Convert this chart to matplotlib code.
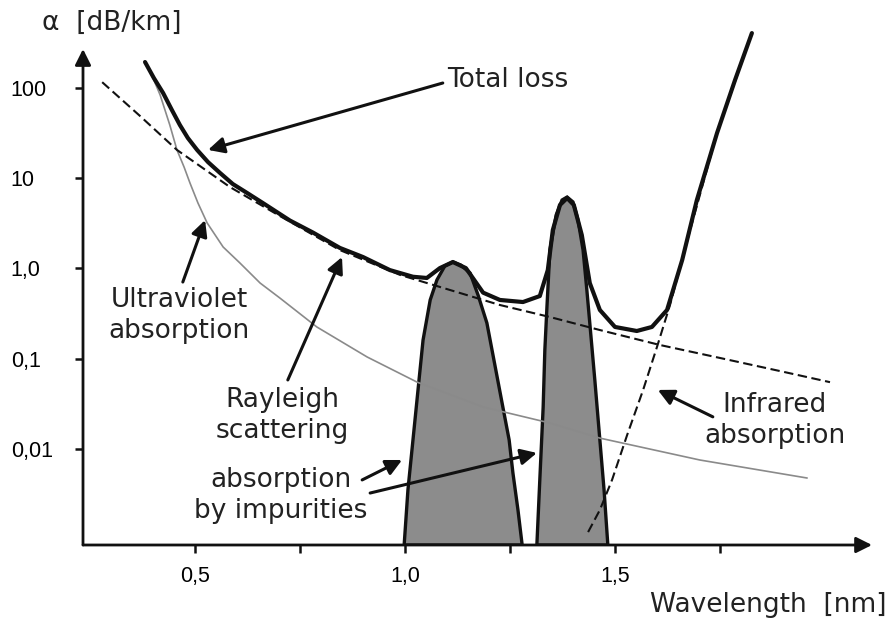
import matplotlib.pyplot as plt
from matplotlib.ticker import NullLocator

# values: wavelength and attenuation alpha [dB/km]
total_wl = [0.381, 0.402, 0.424, 0.445, 0.464, 0.483, 0.505, 0.531, 0.560, 0.590,
            0.624, 0.662, 0.726, 0.781, 0.845, 0.900, 0.964, 1.019, 1.052, 1.083,
            1.114, 1.145, 1.186, 1.226, 1.281, 1.321, 1.340, 1.352, 1.369, 1.386,
            1.402, 1.421, 1.440, 1.464, 1.500, 1.552, 1.588, 1.624, 1.660, 1.695,
            1.743, 1.786, 1.826]
total_alpha = [194, 129, 88.1, 57.0, 38.9, 27.9, 20.6, 15.1, 11.4, 8.63,
               6.87, 5.3, 3.4, 2.5, 1.69, 1.34, 0.96, 0.81, 0.785, 1.01,
               1.18, 1.01, 0.54, 0.448, 0.425, 0.495, 0.96, 2.67, 5.06, 6.04,
               5.06, 2.35, 0.69, 0.347, 0.225, 0.203, 0.225, 0.347, 1.24, 5.74,
               31.7, 123, 406]

rayleigh_wl = [0.279, 0.369, 0.457, 0.583, 0.702, 0.845, 0.988, 1.107, 1.226,
               1.345, 1.464, 1.607, 1.750, 1.893, 2.012]
rayleigh_alpha = [116, 49, 20.6, 8.0, 3.82, 1.60, 0.85, 0.578, 0.394,
                  0.29, 0.208, 0.142, 0.102, 0.073, 0.055]

uv_wl = [0.381, 0.400, 0.417, 0.440, 0.457, 0.474, 0.488, 0.507, 0.529, 0.567,
         0.607, 0.655, 0.702, 0.790, 0.910, 1.029, 1.186, 1.345, 1.464, 1.702, 1.957]
uv_alpha = [194, 129, 83.6, 38.9, 20.6, 13.3, 8.86, 5.32, 3.19, 1.73,
            1.15, 0.69, 0.471, 0.225, 0.1045, 0.055, 0.0292, 0.0194, 0.0132, 0.00755, 0.00477]

ir_wl = [1.436, 1.464, 1.493, 1.529, 1.567, 1.600, 1.631, 1.679, 1.743, 1.826]
ir_alpha = [0.0012, 0.00211, 0.00454, 0.0143, 0.0451, 0.135, 0.394, 2.67, 31.7, 406]

floor = 8.63e-4
peak1_wl = [0.998, 1.007, 1.019, 1.031, 1.043, 1.060, 1.076, 1.095, 1.114, 1.133,
            1.155, 1.174, 1.195, 1.214, 1.233, 1.248, 1.257, 1.269, 1.279]
peak1_alpha = [floor, 0.00352, 0.0126, 0.0451, 0.161, 0.448, 0.746, 1.07, 1.18, 1.09,
               0.89, 0.508, 0.249, 0.0853, 0.0292, 0.0126, 0.00542, 0.00211, floor]
peak2_wl = [1.314, 1.321, 1.329, 1.333, 1.338, 1.345, 1.360, 1.374, 1.386, 1.400,
            1.412, 1.424, 1.433, 1.440, 1.452, 1.464, 1.474, 1.483]
peak2_alpha = [floor, 0.00454, 0.0292, 0.125, 0.374, 1.60, 3.92, 5.74, 6.19, 5.46,
               3.44, 1.60, 0.578, 0.249, 0.0582, 0.0126, 0.00352, floor]

x_ticks = [0.5, 0.75, 1.0, 1.25, 1.5, 1.75]
x_tick_labels = ['0,5', '', '1,0', '', '1,5', '']
y_ticks = [100, 10, 1, 0.1, 0.01]
y_tick_labels = ['100', '10', '1,0', '0,1', '0,01']

fig = plt.figure(figsize=(8.91, 6.26), dpi=100)
ax = fig.add_axes([83 / 891, 81 / 626, 789 / 891, 493 / 626])
ax.set_yscale('log')
ax.set_xlim(0.2333, 2.112)
ax.set_ylim(floor, 250.6)
for s in ax.spines.values():
    s.set_visible(False)

# axes drawn as arrows
axis_arrow = dict(arrowstyle='-|>', lw=2, color='#111111', mutation_scale=24, shrinkA=0, shrinkB=0)
ax.annotate('', xy=(1, 0), xytext=(0, 0), xycoords='axes fraction', arrowprops=axis_arrow)
ax.annotate('', xy=(0, 1.006), xytext=(0, 0), xycoords='axes fraction', arrowprops=axis_arrow)

ax.set_xticks(x_ticks)
ax.set_xticklabels(x_tick_labels, family='Liberation Sans', fontsize=15.5)
ax.set_yticks(y_ticks)
ax.set_yticklabels(y_tick_labels, family='Liberation Sans', fontsize=15.5)
ax.yaxis.set_minor_locator(NullLocator())
ax.tick_params(axis='x', length=6, width=1.8, pad=9, color='#111111')
ax.tick_params(axis='y', length=6, width=1.8, pad=46, color='#111111')
for lab in ax.get_yticklabels():
    lab.set_ha('left')

# impurity absorption peaks
ax.fill(peak1_wl, peak1_alpha, facecolor='#8c8c8c', edgecolor='#111111', lw=2.4, zorder=2)
ax.fill(peak2_wl, peak2_alpha, facecolor='#8c8c8c', edgecolor='#111111', lw=2.4, zorder=2)

ax.plot(uv_wl, uv_alpha, color='#8a8a8a', lw=1.2, zorder=3)
ax.plot(rayleigh_wl, rayleigh_alpha, color='#111111', lw=1.5, dashes=(4.5, 2.2), zorder=3)
ax.plot(ir_wl, ir_alpha, color='#111111', lw=1.5, dashes=(4.5, 2.2), zorder=3)
ax.plot(total_wl, total_alpha, color='#111111', lw=3.0, zorder=4,
        solid_joinstyle='round', solid_capstyle='round', clip_on=False)

# labels with arrows
arr = dict(arrowstyle='-|>', lw=2.2, color='#111111', mutation_scale=24, shrinkA=0, shrinkB=0)
lab_kw = dict(fontsize=19, ha='center', va='center', color='#222222', linespacing=1.25)

ax.text(1.100, 122.6, 'Total loss', fontsize=19, ha='left', va='center', color='#222222')
ax.annotate('', xy=(0.531, 20.6), xytext=(1.090, 113.6), arrowprops=arr)

ax.text(0.462, 0.298, 'Ultraviolet\nabsorption', **lab_kw)
ax.annotate('', xy=(0.524, 3.44), xytext=(0.471, 0.708), arrowprops=arr)

ax.text(0.707, 0.0232, 'Rayleigh\nscattering', **lab_kw)
ax.annotate('', xy=(0.850, 1.34), xytext=(0.721, 0.0582), arrowprops=arr)

ax.text(0.705, 0.00309, 'absorption\nby impurities', **lab_kw)
ax.annotate('', xy=(0.993, 0.00755), xytext=(0.898, 0.00454), arrowprops=arr)
ax.annotate('', xy=(1.314, 0.00904), xytext=(0.917, 0.00325), arrowprops=arr)

ax.text(1.881, 0.0209, 'Infrared\nabsorption', **lab_kw)
ax.annotate('', xy=(1.602, 0.0451), xytext=(1.733, 0.0227), arrowprops=arr)

fig.text(42 / 891, 1 - 23 / 626, 'α  [dB/km]', fontsize=19, ha='left', va='center', color='#222222')
fig.text(650 / 891, 1 - 605 / 626, 'Wavelength  [nm]', fontsize=19, ha='left', va='center', color='#222222')

fig.savefig('out.png', dpi=100)
